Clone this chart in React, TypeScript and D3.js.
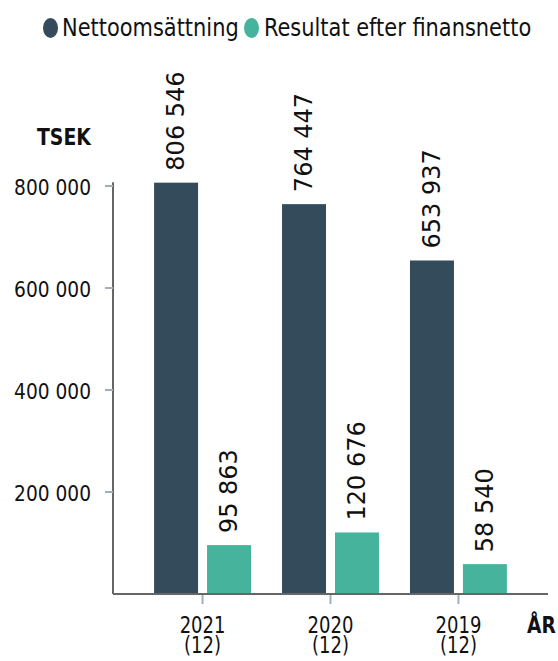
import React from "react";
import * as d3 from "d3";

const years = ["2021", "2020", "2019"];
const subLabels = ["(12)", "(12)", "(12)"];
const nettoomsattning = [806546, 764447, 653937];
const resultat = [95863, 120676, 58540];
const yTicks = [200000, 400000, 600000, 800000];
const seriesNames = ["Nettoomsättning", "Resultat efter finansnetto"];
const colors = ["#344b5b", "#46b39d"];

const W = 558;
const H = 661;
const fmt = (v: number) => d3.format(",")(v).replace(/,/g, " ");
const condensed = "'DejaVu Sans Condensed', 'DejaVu Sans', sans-serif";

function T(props: { x: number; y: number; sx: number; size: number; anchor?: string; bold?: boolean; children: React.ReactNode }) {
  return (
    <text
      transform={`translate(${props.x},${props.y}) scale(${props.sx},1)`}
      textAnchor={props.anchor || "start"}
      fontFamily={condensed}
      fontWeight={props.bold ? "bold" : "normal"}
      fontSize={props.size}
      fill="#111"
    >
      {props.children}
    </text>
  );
}

export default function App() {
  const x0 = 113, x1 = 548, yBase = 594;
  const x = d3.scaleBand<string>().domain(years).range([x0, x1]).paddingInner(0).paddingOuter(0.2);
  const y = d3.scaleLinear().domain([0, 800000]).range([yBase, yBase - 408]);
  const inner = d3.scaleBand<string>().domain(["a", "b"]).range([15.5, x.bandwidth() - 15.5]).paddingInner(9 / 53);
  const series = [nettoomsattning, resultat];
  return (
    <div style={{ position: "absolute", left: 0, top: 0 }}>
      <svg width={W} height={H} style={{ display: "block" }}>
        <rect width={W} height={H} fill="#fff" />
        {/* legend */}
        <ellipse cx={50.5} cy={28} rx={7.5} ry={10} fill={colors[0]} />
        <T x={62} y={36} sx={0.97} size={24}>{seriesNames[0]}</T>
        <ellipse cx={251.5} cy={28} rx={7.5} ry={10} fill={colors[1]} />
        <T x={264} y={36} sx={0.97} size={24}>{seriesNames[1]}</T>
        <T x={37} y={145} sx={0.91} size={23} bold>TSEK</T>
        {/* y axis */}
        <line x1={x0} x2={x0} y1={y(806546) - 0.5} y2={yBase} stroke="#666" strokeWidth={2} />
        {yTicks.map((t) => (
          <g key={t}>
            <line x1={x0 - 8} x2={x0} y1={y(t)} y2={y(t)} stroke="#9fb0ba" strokeWidth={2} />
            <T x={91} y={y(t) + 8.5} sx={0.94} size={22} anchor="end">{fmt(t)}</T>
          </g>
        ))}
        {/* bars */}
        {years.map((yr, i) => (
          <g key={yr} transform={`translate(${x(yr)},0)`}>
            {series.map((s, j) => {
              const bx = inner(j === 0 ? "a" : "b")!;
              const bw = inner.bandwidth();
              const top = y(s[i]);
              const cx = bx + bw / 2 - 1;
              const ly = top - 12;
              return (
                <g key={j}>
                  <rect x={bx} y={top} width={bw} height={yBase - top} fill={colors[j]} />
                  <text transform={`translate(${cx},${ly}) rotate(-90)`} dy="0.36em" fontFamily="'DejaVu Sans', sans-serif" fontSize={24} fill="#111">{fmt(s[i])}</text>
                </g>
              );
            })}
          </g>
        ))}
        {/* x axis */}
        <line x1={x0} x2={x1} y1={yBase} y2={yBase} stroke="#666" strokeWidth={2} />
        {years.map((yr, i) => {
          const cx = x(yr)! + x.bandwidth() / 2;
          return (
            <g key={yr}>
              <line x1={cx} x2={cx} y1={yBase + 1} y2={yBase + 10} stroke="#9fb0ba" strokeWidth={2} />
              <T x={cx} y={633} sx={0.87} size={23} anchor="middle">{yr}</T>
              <T x={cx} y={653} sx={0.87} size={23} anchor="middle">{subLabels[i]}</T>
            </g>
          );
        })}
        <T x={527} y={633} sx={0.9} size={23} bold>ÅR</T>
      </svg>
    </div>
  );
}
